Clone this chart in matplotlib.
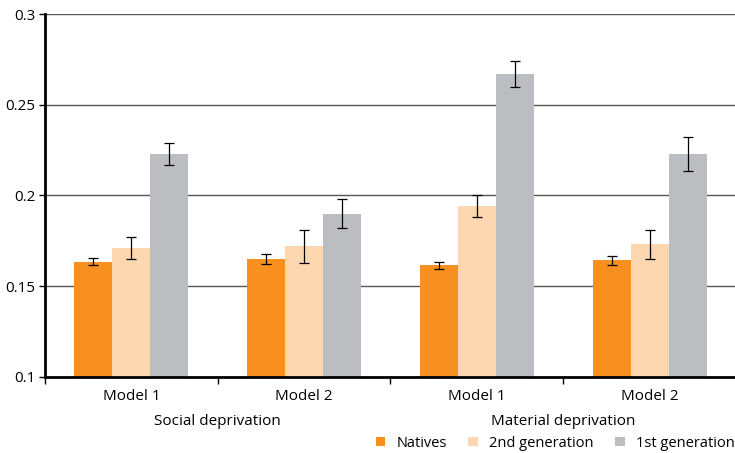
import numpy as np
import matplotlib.pyplot as plt

plt.rcParams['font.family'] = ['Open Sans', 'DejaVu Sans']

models = ['Model 1', 'Model 2', 'Model 1', 'Model 2']
groups = ['Social deprivation', 'Material deprivation']
series = ['Natives', '2nd generation', '1st generation']

natives = [0.1635, 0.165, 0.1615, 0.1642]
natives_err = [0.002, 0.0027, 0.002, 0.0026]
second_gen = [0.171, 0.172, 0.194, 0.173]
second_err = [0.006, 0.009, 0.006, 0.008]
first_gen = [0.223, 0.190, 0.267, 0.223]
first_err = [0.006, 0.008, 0.007, 0.0095]

colors = ['#F7901E', '#FDD7B0', '#BCBDC0']
fs = 11

fig = plt.figure(figsize=(7.35, 4.53), dpi=100)
ax = fig.add_axes([0.0612, 0.168, 0.94, 0.801])

x = np.arange(len(models))
w = 0.22
for i, (vals, errs) in enumerate([(natives, natives_err), (second_gen, second_err), (first_gen, first_err)]):
    ax.bar(x + (i - 1) * w, vals, w, color=colors[i], label=series[i], zorder=2)
    ax.errorbar(x + (i - 1) * w, vals, yerr=errs, fmt='none', ecolor='black',
                elinewidth=0.9, capsize=3.5, capthick=0.9, zorder=3)

ax.set_ylim(0.1, 0.3)
ax.set_xlim(-0.5, 3.5)
ax.set_yticks([0.1, 0.15, 0.2, 0.25, 0.3])
ax.set_yticklabels(['0.1', '0.15', '0.2', '0.25', '0.3'], fontsize=fs)
ax.yaxis.grid(True, color='#555555', linewidth=1, zorder=0)
ax.set_axisbelow(True)

for s in ['top', 'right']:
    ax.spines[s].set_visible(False)
ax.spines['left'].set_linewidth(2)
ax.spines['bottom'].set_linewidth(2)

ax.set_xticks(np.arange(-0.5, 3.6, 1.0))
ax.set_xticklabels([])
ax.tick_params(axis='x', length=5, width=1, direction='out')
ax.tick_params(axis='y', length=4, width=1, direction='out', pad=3)

for xi, m in zip(x, models):
    ax.text(xi, -0.053, m, transform=ax.get_xaxis_transform(), ha='center', va='center', fontsize=fs)
for gi, g in enumerate(groups):
    ax.text(0.5 + 2 * gi, -0.122, g, transform=ax.get_xaxis_transform(), ha='center', va='center', fontsize=fs)

fig.legend(loc='center right', bbox_to_anchor=(1.0, 0.022), ncol=3, frameon=False,
           fontsize=10.5, handlelength=0.65, handleheight=0.65, handletextpad=0.8,
           columnspacing=1.45, borderpad=0, borderaxespad=0)

fig.savefig('out.png', dpi=100)
